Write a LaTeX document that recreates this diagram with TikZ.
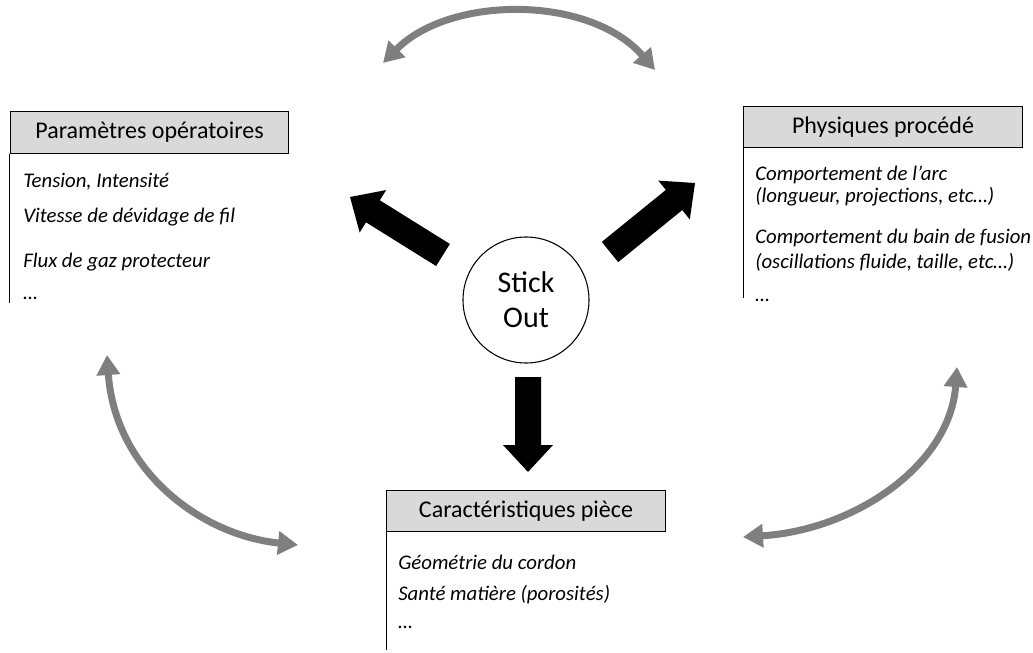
\documentclass[tikz,border=0pt]{standalone}
\usepackage{fontspec}
\setmainfont{Carlito}
\usetikzlibrary{arrows.meta,calc}
\definecolor{hdrgray}{HTML}{D9D9D9}
\definecolor{arrgray}{HTML}{7F7F7F}
\tikzset{
  hdr/.style={draw=black, line width=0.8pt, fill=hdrgray, minimum width=209pt, minimum height=31pt, inner sep=0pt, font=\fontsize{18}{21}\selectfont},
  item/.style={anchor=west, inner sep=0pt, font=\fontsize{15.6}{18}\selectfont\itshape},
  sidebar/.style={draw=black, line width=0.7pt},
  graybend/.style={draw=arrgray, line width=5.25pt, {Triangle[width=17pt,length=15pt]}-{Triangle[width=17pt,length=15pt]}},
  hub/.style={circle, draw=black, line width=0.8pt, minimum size=94.5pt, inner sep=0pt, align=center, font=\fontsize{22.5}{26.25}\selectfont},
}
\newcommand{\fatarrow}[3]{%
  \coordinate (#3) at ($(#2)!20.25pt!(#1)$);
  \fill[black] ($(#1)!9.75pt!90:(#2)$) -- ($(#3)!9.75pt!90:(#2)$) -- ($(#3)!18.75pt!90:(#2)$) -- (#2)
    -- ($(#3)!18.75pt!-90:(#2)$) -- ($(#3)!9.75pt!-90:(#2)$) -- ($(#1)!9.75pt!-90:(#2)$) -- cycle;
}
\begin{document}
\begin{tikzpicture}[x=0.75pt,y=-0.75pt]
\useasboundingbox (0,0) rectangle (1033,653);

% headers
\node[hdr] (h1) at (149.5,132.5) {Paramètres opératoires};
\node[hdr] (h2) at (883,127) {Physiques procédé};
\node[hdr] (h3) at (526,511) {Caractéristiques pièce};

\draw[sidebar] (h1.south west) -- ++(0,149);
\draw[sidebar] (h2.south west) -- ++(0,150);
\draw[sidebar] (h3.south west) -- ++(0,118);

% items box 1
\node[item] (a1) at (23,182) {Tension, Intensité};
\node[item] (a2) at (23,217) {Vitesse de dévidage de fil};
\node[item] (a3) at (23,262) {Flux de gaz protecteur};
\node[item] (a4) at (23,298) {…};

% items box 2
\node[item] (b1) at (755,175) {Comportement de l’arc};
\node[item] (b2) at (755,197) {(longueur, projections, etc…)};
\node[item] (b3) at (755,238) {Comportement du bain de fusion};
\node[item] (b4) at (755,262) {(oscillations fluide, taille, etc…)};
\node[item] (b5) at (755,300) {…};

% items box 3
\node[item] (c1) at (398,562) {Géométrie du cordon};
\node[item] (c2) at (398,595) {Santé matière (porosités)};
\node[item] (c3) at (398,627) {…};

% hub
\node[hub] (so) at (526,300) {Stick\\Out};

% block arrows
\coordinate (dtail) at (528,377);
\coordinate (dtip) at (528,472);
\coordinate (ltail) at (443,255);
\coordinate (ltip) at (350,197);
\coordinate (rtail) at (610,252);
\coordinate (rtip) at (695,183);
\fatarrow{dtail}{dtip}{dhb}
\fatarrow{ltail}{ltip}{lhb}
\fatarrow{rtail}{rtip}{rhb}

% gray curved arrows
\coordinate (t1) at (383,63);
\coordinate (t2) at (655,70);
\coordinate (l1) at (107,355);
\coordinate (l2) at (298,545);
\coordinate (r1) at (957,367);
\coordinate (r2) at (743,537);
\draw[graybend] (t1) .. controls (450,-5) and (590,-5) .. (t2);
\draw[graybend] (l1) .. controls (115,470) and (200,535) .. (l2);
\draw[graybend] (r1) .. controls (950,465) and (855,530) .. (r2);
\end{tikzpicture}
\end{document}
